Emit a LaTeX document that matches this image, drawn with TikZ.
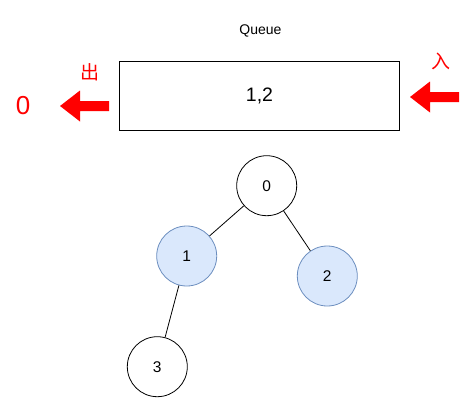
\documentclass[tikz,border=0pt]{standalone}
\usepackage{fontspec}
\setmainfont{Liberation Sans}
\newfontfamily\cjk{Noto Sans CJK SC}
\definecolor{qred}{HTML}{FF0000}
\definecolor{qfill}{HTML}{DAE8FC}
\definecolor{qline}{HTML}{6C8EBF}
\tikzset{
    treenode/.style={circle, draw=black, line width=0.8pt, minimum size=60pt, inner sep=0pt, font=\fontsize{15.5}{17}\selectfont},
    visited/.style={treenode, fill=qfill, draw=qline},
    redtext/.style={text=qred, inner sep=0pt}
}
\begin{document}
\begin{tikzpicture}[x=1pt, y=-1pt]
                    \useasboundingbox (0,0) rectangle (466,407);
                    % キュー
                    \node[font=\fontsize{14}{16}\selectfont] (title) at (260.5,31) {Queue};
                    \node[draw, line width=0.8pt, minimum width=280pt, minimum height=69pt, inner sep=0pt, font=\fontsize{19.5}{22}\selectfont] (queue) at (259.5,96) {1,2};
                    
                    % 出る矢印
                    \fill[qred] (109,101) -- (80,101) -- (80,90.5) -- (60,106) -- (80,121.5) -- (80,111) -- (109,111) -- cycle;
                    \node[redtext, font=\cjk\fontsize{19}{21}\selectfont] (out) at (90,72) {出};
                    \node[redtext, font=\fontsize{26}{28}\selectfont] (popped) at (23,106) {0};
                    
                    % 入る矢印
                    \fill[qred] (459,92) -- (430,92) -- (430,81.5) -- (410,97) -- (430,112.5) -- (430,102) -- (459,102) -- cycle;
                    \node[redtext, font=\cjk\fontsize{19}{21}\selectfont] (in) at (441,61) {入};
                    
                    % 木
                    \node[treenode] (n0) at (266.7,185.7) {0};
                    \node[visited] (n1) at (186.7,256) {1};
                    \node[visited] (n2) at (327.3,276) {2};
                    \node[treenode] (n3) at (157.3,366.7) {3};
                    
                    \draw[line width=0.8pt] (n0) -- (n1);
                    \draw[line width=0.8pt] (n0) -- (n2);
                    \draw[line width=0.8pt] (n1) -- (n3);
                \end{tikzpicture}
\end{document}
